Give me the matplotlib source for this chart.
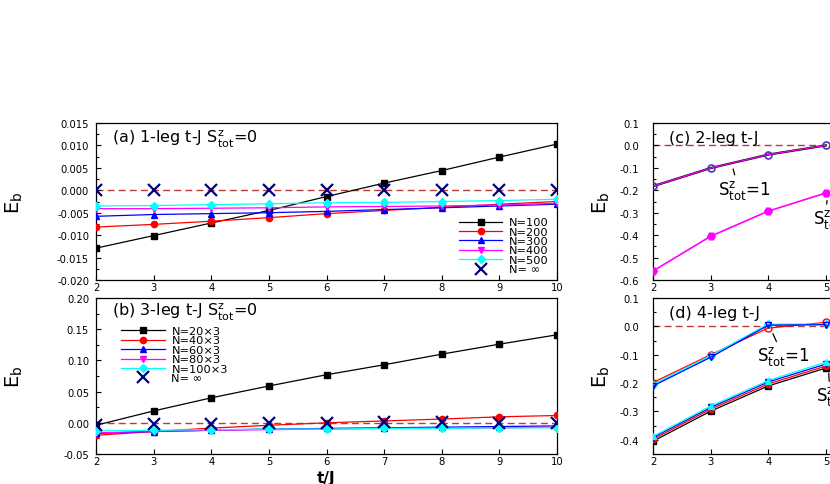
import numpy as np
import matplotlib
matplotlib.use('Agg')
import matplotlib.pyplot as plt
from matplotlib.ticker import MultipleLocator, FuncFormatter

plt.rcParams['font.family'] = ['DejaVu Sans']
plt.rcParams['mathtext.fontset'] = 'dejavusans'

tJ = [2, 3, 4, 5, 6, 7, 8, 9, 10]
tJ_r = [2, 3, 4, 5]

# (a) 1-leg t-J, Sz_tot = 0
a_labels = ['N=100', 'N=200', 'N=300', 'N=400', 'N=500', 'N= \u221e']
a_n100 = [-0.0129, -0.0101, -0.0073, -0.0045, -0.0014, 0.0016, 0.0044, 0.0074, 0.0103]
a_n200 = [-0.0082, -0.0076, -0.0069, -0.0061, -0.0052, -0.0045, -0.0038, -0.0031, -0.0025]
a_n300 = [-0.0058, -0.0054, -0.0052, -0.0050, -0.0047, -0.0043, -0.0039, -0.0035, -0.0031]
a_n400 = [-0.0041, -0.0041, -0.0040, -0.0039, -0.0037, -0.0036, -0.0035, -0.0033, -0.0029]
a_n500 = [-0.0035, -0.0034, -0.0032, -0.0030, -0.0028, -0.0027, -0.0025, -0.0023, -0.0020]
a_inf = [0.0001, 0.0001, 0.0001, 0.0001, 0.0001, 0.0001, 0.0001, 0.0001, 0.0001]

# (b) 3-leg t-J, Sz_tot = 0
b_labels = ['N=20\u00d73', 'N=40\u00d73', 'N=60\u00d73', 'N=80\u00d73',
            'N=100\u00d73', 'N= \u221e']
b_n20 = [-0.004, 0.019, 0.040, 0.059, 0.077, 0.093, 0.110, 0.126, 0.141]
b_n40 = [-0.020, -0.014, -0.0085, -0.004, 0.000, 0.003, 0.006, 0.0096, 0.0117]
b_n60 = [-0.017, -0.014, -0.012, -0.010, -0.009, -0.008, -0.007, -0.006, -0.005]
b_n80 = [-0.016, -0.014, -0.012, -0.011, -0.010, -0.009, -0.008, -0.008, -0.007]
b_n100 = [-0.013, -0.012, -0.011, -0.010, -0.010, -0.009, -0.009, -0.008, -0.008]
b_inf = [-0.003, -0.002, -0.002, -0.001, 0.000, 0.001, 0.002, 0.000, 0.000]

# (c) 2-leg t-J
c_s1 = [-0.182, -0.101, -0.041, 0.000]
c_s0 = [-0.560, -0.405, -0.293, -0.212]

# (d) 4-leg t-J
d_s1_red = [-0.198, -0.100, -0.006, 0.014]
d_s1_blue = [-0.210, -0.109, 0.004, 0.006]
d_s1_cyan = [-0.205, -0.104, 0.007, 0.007]
d_s0_black = [-0.405, -0.299, -0.210, -0.147]
d_s0_red = [-0.398, -0.292, -0.203, -0.140]
d_s0_blue = [-0.392, -0.286, -0.196, -0.133]
d_s0_cyan = [-0.388, -0.281, -0.191, -0.126]

colors = ['black', 'red', 'blue', 'magenta', 'cyan']
markers = ['s', 'o', '^', 'v', 'D']
inf_color = '#000080'
dash_color = '#b83c3c'

W, H = 830, 485
fig = plt.figure(figsize=(W / 100, H / 100), dpi=100)
ax_a = fig.add_axes([96 / W, (H - 281) / H, 461 / W, 157 / H])
ax_b = fig.add_axes([96 / W, (H - 455) / H, 461 / W, 156 / H])
ax_c = fig.add_axes([653 / W, (H - 281) / H, 461 / W, 157 / H])
ax_d = fig.add_axes([653 / W, (H - 455) / H, 461 / W, 156 / H])


def style(ax, ymin, ymax, major, minor, fmt, pad):
    ax.set_xlim(2, 10)
    ax.set_ylim(ymin, ymax)
    ax.xaxis.set_major_locator(MultipleLocator(1))
    ax.yaxis.set_major_locator(MultipleLocator(major))
    ax.yaxis.set_minor_locator(MultipleLocator(minor))
    ax.yaxis.set_major_formatter(plt.FormatStrFormatter(fmt))
    ax.tick_params(which='both', direction='in', labelsize=7.2, width=0.8)
    ax.tick_params(which='major', length=3.5)
    ax.tick_params(which='minor', length=2)
    ax.tick_params(axis='x', pad=1.5)
    ax.tick_params(axis='y', pad=pad)
    for s in ax.spines.values():
        s.set_linewidth(0.9)
    ax.axhline(0, color=dash_color, ls=(0, (5, 3)), lw=1, zorder=1)


def series(ax, y_lists, labels):
    for y, c, m, lab in zip(y_lists, colors, markers, labels):
        ax.plot(tJ, y, color=c, marker=m, ms=4.5, lw=0.9, label=lab, zorder=3)


leg_kw = dict(frameon=False, fontsize=8.2, labelspacing=-0.05, handlelength=3.8,
              handletextpad=0.6, handleheight=0.5)

style(ax_a, -0.020, 0.015, 0.005, 0.0025, '%.3f', 5)
series(ax_a, [a_n100, a_n200, a_n300, a_n400, a_n500], a_labels)
ax_a.plot(tJ, a_inf, ls='none', marker='x', ms=8, mew=1.6, color=inf_color,
          label=a_labels[5], zorder=4)
ax_a.legend(loc='lower right', bbox_to_anchor=(0.995, 0.0), borderaxespad=0.1, **leg_kw)
ax_a.text(0.035, 0.875, r'(a) 1-leg t-J $\mathregular{S^z_{tot}}$=0', transform=ax_a.transAxes,
          fontsize=11.5)
ax_a.set_ylabel(r'E$_\mathregular{b}$', fontsize=14)
ax_a.yaxis.set_label_coords(-0.155, 0.5)

style(ax_b, -0.05, 0.20, 0.05, 0.025, '%.2f', 5)
series(ax_b, [b_n20, b_n40, b_n60, b_n80, b_n100], b_labels)
ax_b.plot(tJ, b_inf, ls='none', marker='x', ms=8, mew=1.6, color=inf_color,
          label=b_labels[5], zorder=4)
ax_b.legend(loc='upper left', bbox_to_anchor=(0.045, 0.85), borderaxespad=0, **leg_kw)
ax_b.text(0.035, 0.885, r'(b) 3-leg t-J $\mathregular{S^z_{tot}}$=0', transform=ax_b.transAxes,
          fontsize=11.5)
ax_b.set_ylabel(r'E$_\mathregular{b}$', fontsize=14)
ax_b.yaxis.set_label_coords(-0.155, 0.5)
ax_b.set_xlabel('t/J', fontsize=11, fontweight='bold', labelpad=3)

style(ax_c, -0.6, 0.1, 0.1, 0.05, '%.1f', 10)
ax_c.plot(tJ_r, c_s1, color='black', lw=1.6, zorder=3)
ax_c.plot(tJ_r, c_s1, color='magenta', lw=0.9, marker='o', ms=5, mfc='none',
          mec='#5030c0', mew=1.2, zorder=4)
ax_c.plot(tJ_r, c_s0, color='magenta', lw=1.2, marker='H', ms=5.5, zorder=4)
ax_c.text(0.035, 0.88, '(c) 2-leg t-J', transform=ax_c.transAxes, fontsize=11.5)
ax_c.annotate(r'$\mathregular{S^z_{tot}}$=1', xy=(3.39, -0.105), xytext=(3.13, -0.215),
              fontsize=12, arrowprops=dict(arrowstyle='-', color='black', lw=0.9,
                                           shrinkA=0, shrinkB=0,
                                           relpos=(0.33, 1.0)))
ax_c.annotate(r'$\mathregular{S^z_{tot}}$=0', xy=(5.02, -0.245), xytext=(4.78, -0.345),
              fontsize=12, arrowprops=dict(arrowstyle='-', color='black', lw=0.9,
                                           shrinkA=0, shrinkB=0,
                                           relpos=(0.25, 1.0)))
ax_c.set_ylabel(r'E$_\mathregular{b}$', fontsize=14)
ax_c.yaxis.set_label_coords(-0.09, 0.5)

style(ax_d, -0.45, 0.1, 0.1, 0.05, '%.1f', 10)
ax_d.plot(tJ_r, d_s1_red, color='red', lw=0.9, marker='o', ms=5, mfc='none', mew=1, zorder=3)
ax_d.plot(tJ_r, d_s1_cyan, color='cyan', lw=1.2, marker='D', ms=4, mfc='none', mew=1, zorder=3)
ax_d.plot(tJ_r, d_s1_blue, color='blue', lw=0.9, marker='v', ms=5, mfc='none', mew=1, zorder=4)
ax_d.plot(tJ_r, d_s0_black, color='black', lw=0.9, marker='s', ms=4.5, zorder=3)
ax_d.plot(tJ_r, d_s0_red, color='red', lw=0.9, marker='o', ms=4.5, zorder=3)
ax_d.plot(tJ_r, d_s0_blue, color='blue', lw=0.9, marker='v', ms=4.5, zorder=4)
ax_d.plot(tJ_r, d_s0_cyan, color='cyan', lw=0.9, marker='^', ms=4.5, zorder=4)
ax_d.text(0.035, 0.88, '(d) 4-leg t-J', transform=ax_d.transAxes, fontsize=11.5)
ax_d.annotate(r'$\mathregular{S^z_{tot}}$=1', xy=(4.08, -0.026), xytext=(3.80, -0.12),
              fontsize=12, arrowprops=dict(arrowstyle='-', color='black', lw=0.9,
                                           shrinkA=0, shrinkB=0,
                                           relpos=(0.4, 1.0)))
ax_d.annotate(r'$\mathregular{S^z_{tot}}$=0', xy=(5.05, -0.165), xytext=(4.83, -0.26),
              fontsize=12, arrowprops=dict(arrowstyle='-', color='black', lw=0.9,
                                           shrinkA=0, shrinkB=0,
                                           relpos=(0.25, 1.0)))
ax_d.set_ylabel(r'E$_\mathregular{b}$', fontsize=14)
ax_d.yaxis.set_label_coords(-0.09, 0.5)

# right panels run past the image edge; labels beyond x=5 would be invisible anyway
for ax in (ax_c, ax_d):
    ax.xaxis.set_major_formatter(FuncFormatter(lambda v, p: '%d' % v if v <= 5 else ''))

fig.savefig('out.png', dpi=100)
